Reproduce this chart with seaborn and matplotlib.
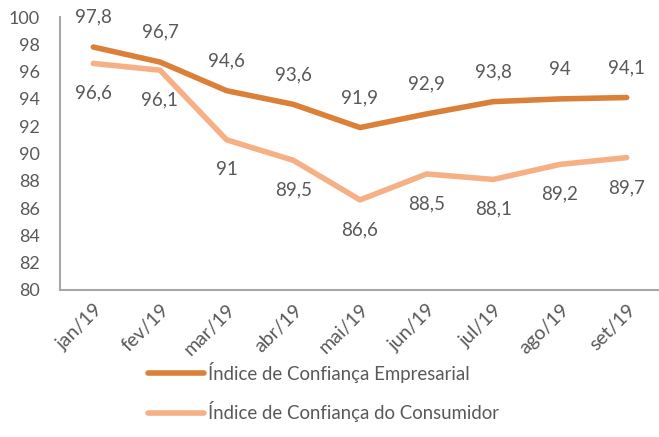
import matplotlib
matplotlib.use("Agg")
import matplotlib.pyplot as plt
from matplotlib.lines import Line2D
import seaborn as sns
import pandas as pd

meses = ["jan/19", "fev/19", "mar/19", "abr/19", "mai/19", "jun/19", "jul/19", "ago/19", "set/19"]
icei = [97.8, 96.7, 94.6, 93.6, 91.9, 92.9, 93.8, 94.0, 94.1]
icc = [96.6, 96.1, 91.0, 89.5, 86.6, 88.5, 88.1, 89.2, 89.7]
nome_icei = "Índice de Confiança Empresarial"
nome_icc = "Índice de Confiança do Consumidor"

sns.set_style("white")
plt.rcParams["font.family"] = ["Lato", "DejaVu Sans"]

cor_escura = "#DA8038"
cor_clara = "#F5B086"
cinza_txt = "#595959"
cinza_eixo = "#A6A6A6"

df = pd.DataFrame({"valor": icei + icc,
                   "serie": [nome_icei] * len(meses) + [nome_icc] * len(meses)})
df["x"] = list(range(len(meses))) * 2

fig = plt.figure(figsize=(6.59, 4.37), dpi=100)
ax = fig.add_axes([60 / 659, 1 - 290 / 437, 600 / 659, 273 / 437])

sns.lineplot(data=df, x="x", y="valor", hue="serie",
             palette=[cor_escura, cor_clara], linewidth=4, ax=ax, legend=False)

def fmt(v):
    s = f"{v:.1f}".replace(".", ",")
    return s[:-2] if s.endswith(",0") else s

for i, v in enumerate(icei):
    ax.annotate(fmt(v), (i, v), xytext=(0, 21.5), textcoords="offset points",
                ha="center", va="center", fontsize=13.5, color=cinza_txt)
for i, v in enumerate(icc):
    ax.annotate(fmt(v), (i, v), xytext=(0, -21.5), textcoords="offset points",
                ha="center", va="center", fontsize=13.5, color=cinza_txt)

ax.set_xlim(-0.5, len(meses) - 0.5)
ax.set_ylim(80, 100)
ax.set_yticks(range(80, 101, 2))
ax.set_yticklabels([str(t) for t in range(80, 101, 2)], fontsize=13, color=cinza_txt)
ax.set_xticks([i - 0.5 for i in range(len(meses) + 1)])
ax.set_xticklabels([])
ax.set_xticks(range(len(meses)), minor=True)
ax.set_xticklabels(meses, minor=True, rotation=45, ha="right", rotation_mode="anchor",
                   fontsize=14, color=cinza_txt)
ax.tick_params(axis="x", which="major", length=4.5, color=cinza_eixo, width=1.5)
ax.tick_params(axis="x", which="minor", length=0, pad=8)
ax.tick_params(axis="y", length=4.5, color=cinza_eixo, width=1.5, pad=10)
ax.set_xlabel("")
ax.set_ylabel("")
for lado in ["top", "right"]:
    ax.spines[lado].set_visible(False)
for lado in ["left", "bottom"]:
    ax.spines[lado].set_color(cinza_eixo)
    ax.spines[lado].set_linewidth(1.5)

alcas = [Line2D([0], [0], color=cor_escura, lw=4, solid_capstyle="round"),
         Line2D([0], [0], color=cor_clara, lw=4, solid_capstyle="round")]
fig.legend(alcas, [nome_icei, nome_icc], loc="center left",
           bbox_to_anchor=(131 / 659, 1 - 392 / 437), frameon=False,
           fontsize=13.4, labelcolor=cinza_txt, handlelength=3.0,
           handletextpad=0.25, labelspacing=1.0)

fig.savefig("out.png", dpi=100)
